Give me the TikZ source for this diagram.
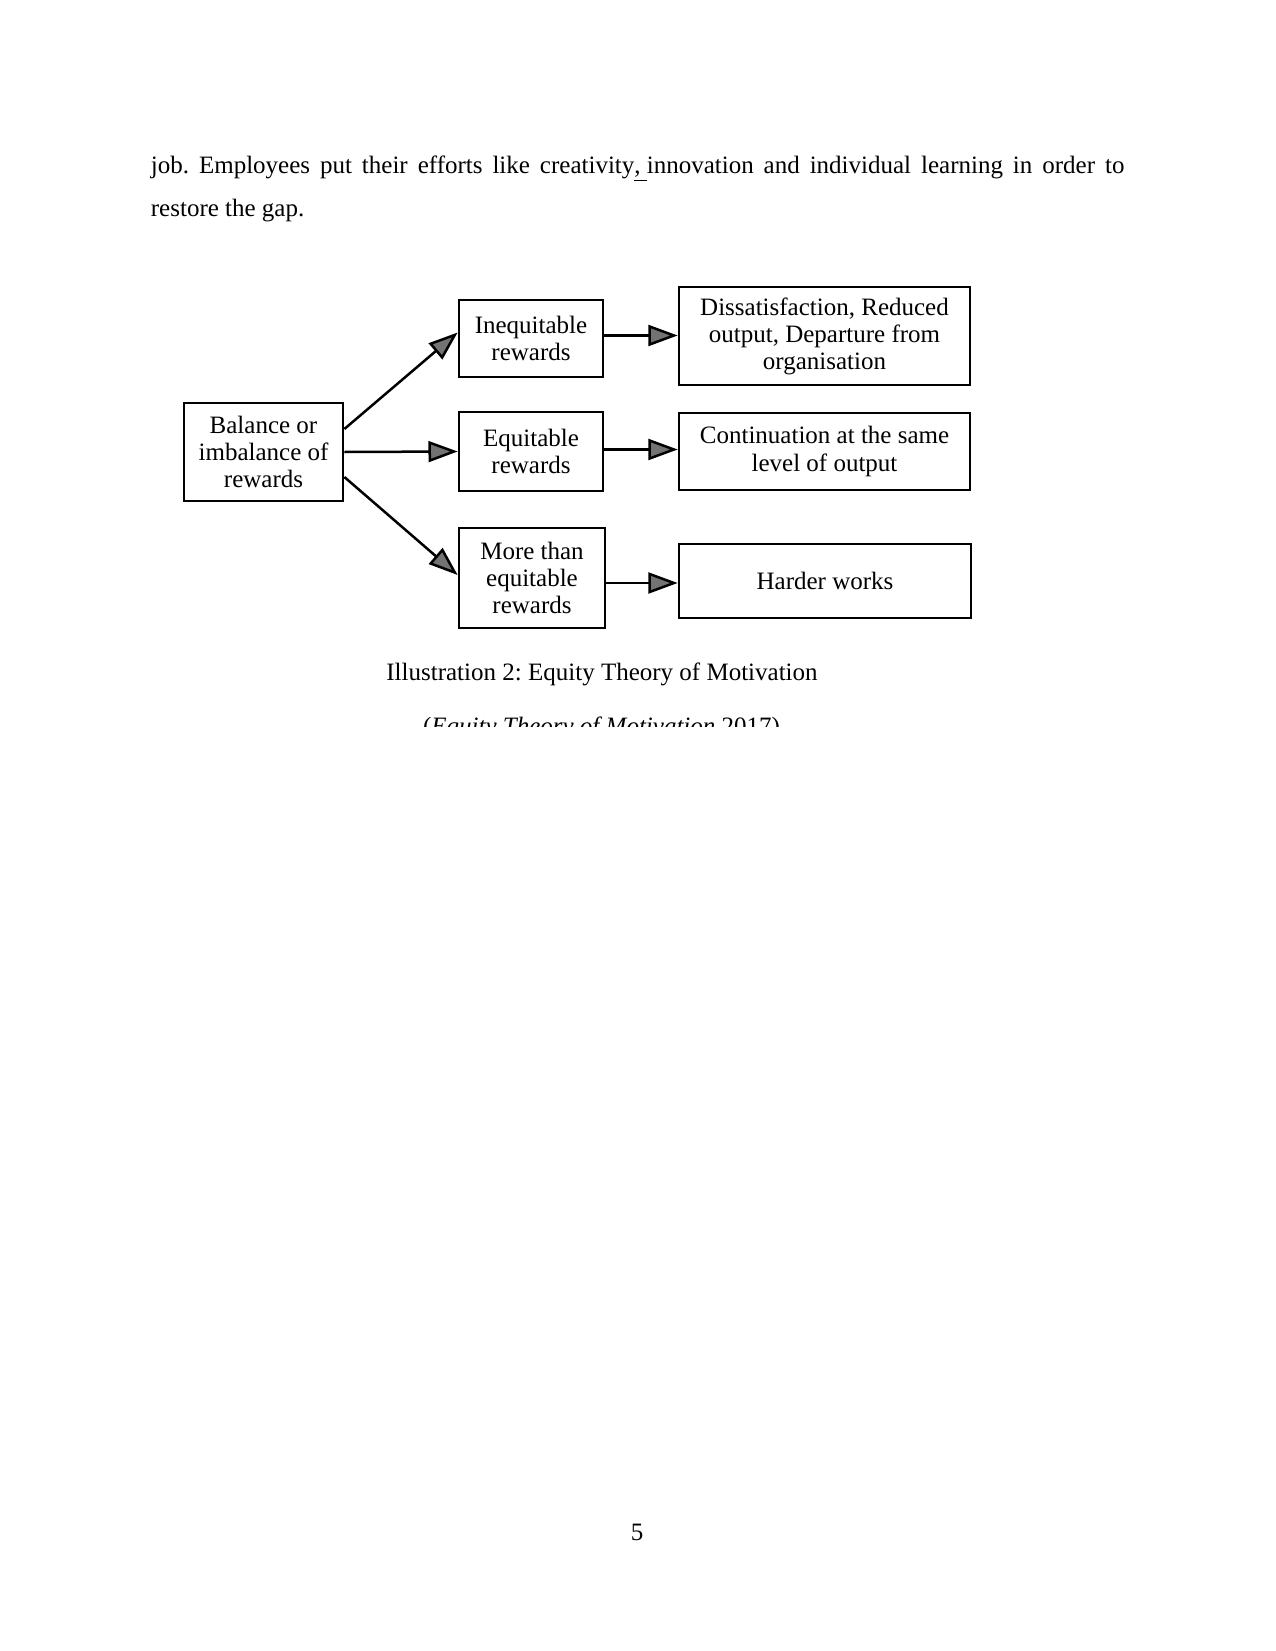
\documentclass[tikz,border=0pt]{standalone}
\usepackage{fontspec}
\setmainfont{Liberation Serif}
\usetikzlibrary{arrows.meta,calc}
\frenchspacing
\begin{document}
\begin{tikzpicture}[x=0.48pt,y=-0.48pt,
  box/.style={draw=black,line width=1.3pt,inner sep=0pt,align=center,
    font=\fontsize{12}{13}\selectfont},
  arr/.style={line width=1.2pt,-{Triangle[length=14pt,width=10pt,fill=black!55]}},
  body/.style={inner sep=0pt,font=\fontsize{12}{14}\selectfont}]
\useasboundingbox[fill=white] (0,0) rectangle (1275,1651);
% body text
\node[body,anchor=base west] (l1) at (150.5,174) {\makebox[467.3pt][s]{job. Employees put their efforts like creativity\underline{, }innovation and individual learning in order to}};
\node[body,anchor=base west] (l2) at (150.5,217) {restore the gap.};
% boxes
\node[box,minimum width={159*0.48pt},minimum height={98*0.48pt}] (bal) at (263.5,452) {Balance or\\imbalance of\\rewards};
\node[box,minimum width={144*0.48pt},minimum height={77*0.48pt}] (ineq) at (531,338.5) {Inequitable\\rewards};
\node[box,minimum width={144*0.48pt},minimum height={79*0.48pt}] (eq) at (531,451.5) {Equitable\\rewards};
\node[box,minimum width={146*0.48pt},minimum height={100*0.48pt}] (more) at (532,578) {More than\\equitable\\rewards};
\node[box,minimum width={291*0.48pt},minimum height={98*0.48pt}] (dis) at (824.5,336) {Dissatisfaction, Reduced\\output, Departure from\\organisation};
\node[box,minimum width={291*0.48pt},minimum height={77*0.48pt}] (cont) at (824.5,451.5) {Continuation at the same\\level of output};
\node[box,minimum width={292*0.48pt},minimum height={74*0.48pt}] (hard) at (825,581) {Harder works};
% connectors
\draw[arr] ($(bal.east)+(0,-23)$) -- ($(ineq.west)+(0,-6)$);
\draw[arr] (bal.east) -- (eq.west);
\draw[arr] ($(bal.east)+(0,25)$) -- ($(more.west)+(0,-3)$);
\draw[arr] ($(ineq.east)+(0,-3)$) -- ($(ineq.east -| dis.west)+(0,-3)$);
\draw[arr] ($(eq.east)+(0,-2)$) -- ($(eq.east -| cont.west)+(0,-2)$);
\draw[arr] ($(more.east)+(0,5)$) -- ($(more.east -| hard.west)+(0,5)$);
% caption
\node[body,anchor=base] (cap) at (602,680) {Illustration 2: Equity Theory of Motivation};
\begin{scope}
\clip (0,0) rectangle (1275,726);
\node[body,anchor=base] (src) at (601.5,734) {(\textit{Equity Theory of Motivation} 2017)};
\end{scope}
% page number
\node[body,anchor=base] (pg) at (637,1540) {5};
\end{tikzpicture}
\end{document}
